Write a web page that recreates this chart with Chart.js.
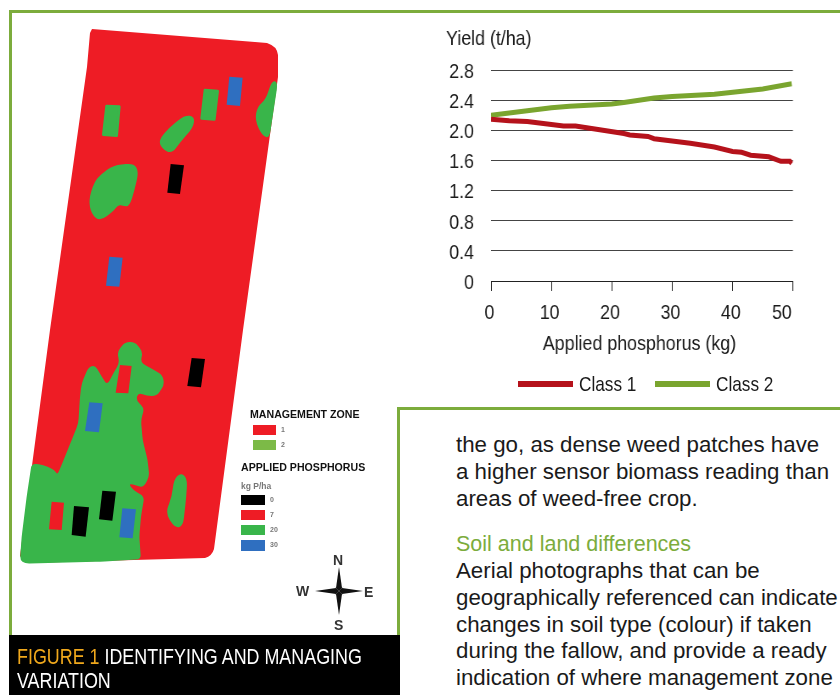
<!DOCTYPE html>
<html>
<head>
<meta charset="utf-8">
<title>Figure 1</title>
<script src="https://cdn.jsdelivr.net/npm/chart.js@4"></script>
<style>
html, body { margin: 0; padding: 0; background: #fff; }
#page { position: relative; width: 840px; height: 695px; overflow: hidden; background: #fff; font-family: "Liberation Sans", Arial, sans-serif; }
.abs { position: absolute; }
.frame { position: absolute; background: #7cac3c; }
#caption { left: 9px; top: 635px; width: 391px; height: 60px; background: #000; color: #fff; font-size: 22px; line-height: 24px; }
#caption div { position: absolute; left: 8px; white-space: nowrap; transform: scaleX(0.813); transform-origin: left top; }
#caption span { color: #f0a81c; }
#body { left: 456px; top: 432px; width: 390px; font-size: 22.3px; line-height: 26.75px; color: #1a1a1a; white-space: nowrap; }
#body .head { color: #7cac3c; font-size: 21.5px; }
#chartBox { left: 446px; top: 27px; width: 394px; height: 342px; }
/* no narrow font installed, so the whole canvas is squeezed sideways */
#yieldChart { transform: scaleX(0.849); transform-origin: left top; }
#legendBox { left: 518px; top: 372px; height: 24px; display: flex; align-items: center; font-size: 21px; color: #1a1a1a; white-space: nowrap; }
#legendBox i { display: inline-block; width: 55px; height: 5.4px; margin-right: 6px; }
#legendBox span { display: inline-block; width: 56px; margin-right: 20px; transform: scaleX(0.82); transform-origin: left center; }
#mapBits { filter: blur(0.6px); }
.mapLeg { position: absolute; font-weight: bold; font-size: 10.6px; color: #111; white-space: nowrap; line-height: 10px; }
.sw { position: absolute; }
.tiny { position: absolute; font-size: 7px; font-weight: bold; color: #777; line-height: 6px; }
.compass { position: absolute; font-weight: bold; font-size: 14px; color: #333; line-height: 14px; }
</style>
</head>
<body>
<div id="page">
  <div class="frame" style="left:9px;top:10px;width:831px;height:3px"></div>
  <div class="frame" style="left:9px;top:10px;width:3px;height:625px"></div>
  <div class="frame" style="left:397px;top:407px;width:443px;height:3px"></div>
  <div class="frame" style="left:397px;top:407px;width:3px;height:228px"></div>

  <div id="mapBits">
  <!-- field map -->
  <svg class="abs" style="left:0;top:0" width="400" height="635">
    <path fill="#ee1c25" d="M92,29 L267,43 Q277,46 278,55 L278,77 L243,330 L214,549 Q212,556 205,558 L27,563 L20,556 L50,330 L87,67 L90,33 Z"/>
    <g transform="scale(0.3333)" fill="#39b54a">
      <polygon stroke="#39b54a" stroke-width="8" stroke-linejoin="round" points="320,318 358,320 350,407 310,404"/>
      <polygon stroke="#39b54a" stroke-width="8" stroke-linejoin="round" points="615,270 653,273 643,358 605,355"/>
      <polygon class="blob" data-r="25" points="815,242 834,245 808,416 785,405 765,360 772,320 798,298"/>
      <polygon class="blob" data-r="25" points="555,345 584,350 580,382 540,428 515,462 485,445 476,420 508,382"/>
      <polygon class="blob" data-r="25" points="340,496 402,490 416,515 404,570 388,620 368,618 355,614 340,634 300,664 274,642 266,600 282,548 303,522"/>
      <polygon fill="#2f6fc0" points="688,230 728,233 720,318 680,314"/>
      <polygon fill="#2f6fc0" points="328,770 368,773 358,860 318,857"/>
      <polygon fill="#000" points="512,492 552,496 540,582 502,578"/>
    </g>
    <g transform="translate(0,330) scale(0.3333)" fill="#39b54a">
      <polygon class="blob" data-r="14" points="60,690 65,620 80,500 95,400 130,405 165,420 172,435 195,380 215,330 235,280 240,200 245,160 265,112 285,105 305,140 322,165 340,130 358,100 352,65 375,36 405,36 428,65 422,98 450,113 488,135 493,165 470,198 440,198 415,188 408,210 433,235 423,270 428,330 443,390 448,440 430,473 385,460 400,480 433,500 423,560 418,620 423,688 300,695 75,701"/>
      <polygon class="blob" data-r="25" points="542,428 562,445 559,500 549,589 525,594 496,550 516,500 521,450"/>
      <polygon fill="#ee1c25" points="360,105 395,108 385,190 347,188"/>
      <polygon fill="#ee1c25" points="155,515 192,518 185,600 147,598"/>
      <polygon fill="#000" points="222,528 267,532 257,620 215,615"/>
      <polygon fill="#000" points="307,482 348,485 337,572 297,568"/>
      <polygon fill="#000" points="575,84 615,87 603,172 562,168"/>
      <polygon fill="#2f6fc0" points="367,535 408,538 398,625 358,622"/>
      <polygon fill="#2f6fc0" points="268,217 308,220 297,307 255,303"/>
    </g>
    <!-- compass star -->
    <g transform="translate(339,591)">
      <polygon fill="#111" points="0,-24 3,-3 0,0 -3,-3"/>
      <polygon fill="#111" points="0,24 -3,3 0,0 3,3"/>
      <polygon fill="#111" points="-24,0 -3,-3 0,0 -3,3"/>
      <polygon fill="#111" points="24,0 3,3 0,0 3,-3"/>
      <polygon fill="#111" points="0,0 5,-5 1.5,-1"/>
      <polygon fill="#111" points="0,0 -5,5 -1.5,1"/>
      <polygon fill="#111" points="0,0 5,5 1,1.5"/>
      <polygon fill="#111" points="0,0 -5,-5 -1,-1.5"/>
    </g>
  </svg>

  <div class="mapLeg" style="left:250px;top:409px">MANAGEMENT ZONE</div>
  <div class="sw" style="left:253px;top:425px;width:23px;height:10px;background:#ee1c25"></div>
  <div class="sw" style="left:253px;top:440px;width:23px;height:10px;background:#7cba47"></div>
  <div class="tiny" style="left:281px;top:427px">1</div>
  <div class="tiny" style="left:281px;top:442px">2</div>
  <div class="mapLeg" style="left:241px;top:462px">APPLIED PHOSPHORUS</div>
  <div class="tiny" style="left:241px;top:483px;font-size:8.5px">kg P/ha</div>
  <div class="sw" style="left:241px;top:495px;width:24px;height:10px;background:#000"></div>
  <div class="sw" style="left:241px;top:510px;width:24px;height:10px;background:#ee1c25"></div>
  <div class="sw" style="left:241px;top:525px;width:24px;height:10px;background:#39b54a"></div>
  <div class="sw" style="left:241px;top:540px;width:24px;height:11px;background:#2f6fc0"></div>
  <div class="tiny" style="left:270px;top:497px">0</div>
  <div class="tiny" style="left:270px;top:512px">7</div>
  <div class="tiny" style="left:270px;top:527px">20</div>
  <div class="tiny" style="left:270px;top:542px">30</div>
  <div class="compass" style="left:333px;top:553px">N</div>
  <div class="compass" style="left:296px;top:584px">W</div>
  <div class="compass" style="left:364px;top:585px">E</div>
  <div class="compass" style="left:334px;top:618px">S</div>
  </div>

  <div class="abs" id="chartBox"><canvas id="yieldChart" width="464" height="342"></canvas></div>
  <div class="abs" id="legendBox"></div>

  <div class="abs" id="caption">
    <div style="top:10px"><span>FIGURE 1</span> IDENTIFYING AND MANAGING</div>
    <div style="top:34px">VARIATION</div>
  </div>

  <div class="abs" id="body">
    the go, as dense weed patches have<br>
    a higher sensor biomass reading than<br>
    areas of weed-free crop.<br>
    <div class="head" style="margin-top:19px">Soil and land differences</div>
    Aerial photographs that can be<br>
    geographically referenced can indicate<br>
    changes in soil type (colour) if taken<br>
    during the fallow, and provide a ready<br>
    indication of where management zone<br>
    boundaries might be
  </div>
</div>

<script>
// values
const class1X = [0, 3, 6, 9, 12, 14, 18, 22, 23, 26, 27, 30, 33, 37, 40, 41.5, 43, 46, 48, 49.5, 49.8];
const class1Y = [2.15, 2.13, 2.12, 2.09, 2.06, 2.06, 2.01, 1.96, 1.94, 1.92, 1.89, 1.86, 1.83, 1.78, 1.72, 1.71, 1.67, 1.65, 1.59, 1.59, 1.56];
const class2X = [0, 5, 10, 13, 20, 22, 27, 30, 37, 45, 49.8];
const class2Y = [2.20, 2.25, 2.30, 2.32, 2.35, 2.37, 2.43, 2.45, 2.48, 2.55, 2.62];
const seriesNames = ['Class 1', 'Class 2'];
const seriesColors = ['#b5121b', '#7aa52f'];
const yTicks = [0, 0.4, 0.8, 1.2, 1.6, 2.0, 2.4, 2.8];
const xTicks = [0, 10, 20, 30, 40, 50];

Chart.defaults.font.family = '"Liberation Sans", Arial, sans-serif';
Chart.defaults.color = '#1a1a1a';

function toPoints(xs, ys) {
    return xs.map((x, i) => ({ x: x, y: ys[i] }));
}

// round the corners of the map blobs
document.querySelectorAll('polygon.blob').forEach(el => {
    const r = Number(el.dataset.r);
    const pts = el.getAttribute('points').trim().split(/\s+/).map(p => p.split(',').map(Number));
    let d = '';
    pts.forEach((cur, i) => {
        const prev = pts[(i + pts.length - 1) % pts.length];
        const next = pts[(i + 1) % pts.length];
        const toward = (to) => {
            const len = Math.hypot(to[0] - cur[0], to[1] - cur[1]);
            const t = Math.min(r / len, 0.5);
            return [cur[0] + (to[0] - cur[0]) * t, cur[1] + (to[1] - cur[1]) * t];
        };
        const a = toward(prev);
        const b = toward(next);
        d += (i ? 'L' : 'M') + a.join(',') + 'Q' + cur.join(',') + ' ' + b.join(',');
    });
    const path = document.createElementNS('http://www.w3.org/2000/svg', 'path');
    path.setAttribute('d', d + 'Z');
    el.replaceWith(path);
});

// the last x label sits left of its tick in the original
const shiftLastLabel = {
    id: 'shiftLastLabel',
    beforeDraw(chart) {
        if (chart.$shifted) return;
        const items = chart.scales.x.getLabelItems();
        items[items.length - 1].options.translation[0] -= 11;
        chart.$shifted = true;
    }
};

const chart = new Chart(document.getElementById('yieldChart').getContext('2d'), {
    type: 'line',
    data: {
        datasets: [{
            label: seriesNames[0],
            data: toPoints(class1X, class1Y),
            borderColor: seriesColors[0],
            backgroundColor: seriesColors[0],
            borderWidth: 5,
            pointRadius: 0,
            tension: 0
        }, {
            label: seriesNames[1],
            data: toPoints(class2X, class2Y),
            borderColor: seriesColors[1],
            backgroundColor: seriesColors[1],
            borderWidth: 5,
            pointRadius: 0,
            tension: 0
        }]
    },
    options: {
        responsive: false,
        animation: false,
        layout: { padding: { right: 55.4, top: 0, bottom: 0, left: 0 } },
        plugins: {
            legend: { display: false },
            tooltip: { enabled: false },
            title: {
                display: true,
                text: 'Yield (t/ha)',
                align: 'start',
                font: { size: 21, weight: 'normal' },
                padding: { top: 0, bottom: 18 }
            }
        },
        scales: {
            x: {
                type: 'linear',
                min: 0,
                max: 50,
                afterBuildTicks(scale) { scale.ticks = xTicks.map(v => ({ value: v })); },
                afterFit(scale) { scale.height = 88; },
                grid: { drawOnChartArea: false, tickLength: 10, color: '#222', lineWidth: 1 },
                border: { color: '#222' },
                ticks: { font: { size: 21 }, padding: 10, maxRotation: 0, labelOffset: -2 },
                title: { display: true, text: 'Applied phosphorus (kg) ', font: { size: 21 }, padding: { top: 4, bottom: 12 } }
            },
            y: {
                min: 0,
                max: 2.8,
                afterBuildTicks(scale) { scale.ticks = yTicks.map(v => ({ value: v })); },
                afterFit(scale) { scale.width = 53; },
                grid: { drawTicks: false, color: '#444', lineWidth: 1 },
                border: { display: false },
                ticks: {
                    font: { size: 21 },
                    padding: 20,
                    labelOffset: 2,
                    callback: v => (v === 0 ? '0' : v.toFixed(1))
                }
            }
        }
    },
    plugins: [shiftLastLabel]
});

// html legend built from the datasets
const legendBox = document.getElementById('legendBox');
chart.data.datasets.forEach(ds => {
    const sw = document.createElement('i');
    sw.style.background = ds.borderColor;
    const txt = document.createElement('span');
    txt.textContent = ds.label;
    legendBox.appendChild(sw);
    legendBox.appendChild(txt);
});
</script>
</body>
</html>
